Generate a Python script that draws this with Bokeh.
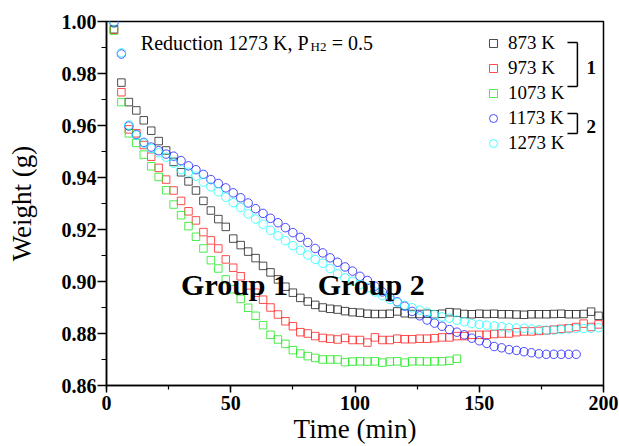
from bokeh.plotting import figure
from bokeh.models import (Range1d, SingleIntervalTicker, PrintfTickFormatter,
                          Label, Legend, LegendItem)
from bokeh.embed import file_html
from bokeh.resources import INLINE

# Sampling times (min)
TIME = [3, 6, 9, 12, 15, 18, 21, 24, 27, 30, 33, 36, 39, 42, 45, 48, 51, 54,
        57, 60, 63, 66, 69, 72, 75, 78, 81, 84, 87, 90, 93, 96, 99, 102, 105,
        108, 111, 114, 117, 120, 123, 126, 129, 132, 135, 138, 141, 144, 147,
        150, 153, 156, 159, 162, 165, 168, 171, 174, 177, 180, 183, 186, 189,
        192, 195, 198]

# Sample weight (g) during reduction, by temperature
W_873 = [0.997, 0.9765, 0.969, 0.9658, 0.962, 0.958, 0.954, 0.9504, 0.946, 0.942,
         0.9385, 0.935, 0.931, 0.9273, 0.924, 0.921, 0.9165, 0.914, 0.9115, 0.909,
         0.906, 0.9035, 0.9008, 0.898, 0.8957, 0.8937, 0.8923, 0.891, 0.890, 0.8895,
         0.8892, 0.8886, 0.8882, 0.888, 0.8876, 0.8875, 0.8875, 0.8876, 0.8885, 0.8878,
         0.8875, 0.8875, 0.8876, 0.8874, 0.8876, 0.8882, 0.8880, 0.8875, 0.8874, 0.8876,
         0.8875, 0.8876, 0.8874, 0.8874, 0.8873, 0.8872, 0.8874, 0.8874, 0.8874, 0.8875,
         0.8876, 0.8874, 0.8874, 0.8875, 0.8884, 0.8868]

W_973 = [0.9968, 0.9728, 0.9585, 0.957, 0.9525, 0.948, 0.9437, 0.9392, 0.935, 0.931,
         0.927, 0.9235, 0.919, 0.9158, 0.9127, 0.9085, 0.9053, 0.902, 0.8985, 0.8957,
         0.893, 0.890, 0.8873, 0.8847, 0.8828, 0.8805, 0.880, 0.879, 0.8783, 0.878,
         0.8777, 0.8783, 0.8775, 0.8775, 0.8765, 0.8785, 0.8775, 0.8775, 0.878, 0.8778,
         0.8778, 0.878, 0.878, 0.8782, 0.8785, 0.8785, 0.879, 0.879, 0.8795, 0.8795,
         0.8795, 0.8798, 0.880, 0.880, 0.8805, 0.8808, 0.8808, 0.881, 0.8812, 0.8815,
         0.8818, 0.882, 0.8825, 0.8838, 0.8825, 0.8835]

W_1073 = [0.9965, 0.969, 0.957, 0.9533, 0.9488, 0.9443, 0.9402, 0.9351, 0.9296, 0.9255,
          0.9213, 0.9172, 0.9127, 0.9082, 0.905, 0.9008, 0.897, 0.8933, 0.8899, 0.8868,
          0.8832, 0.8795, 0.8777, 0.876, 0.8736, 0.8723, 0.8713, 0.8706, 0.870, 0.870,
          0.870, 0.869, 0.8692, 0.8693, 0.8692, 0.8693, 0.8688, 0.8692, 0.8693, 0.8688,
          0.8693, 0.8693, 0.8692, 0.8693, 0.8693, 0.8695, 0.8703]

W_1173 = [0.9995, 0.9875, 0.9598, 0.9565, 0.9535, 0.9517, 0.9503, 0.949, 0.9482, 0.9465,
          0.9445, 0.943, 0.9412, 0.9392, 0.9377, 0.936, 0.9341, 0.9322, 0.9302, 0.928,
          0.9262, 0.9243, 0.9226, 0.9207, 0.9188, 0.917, 0.915, 0.9127, 0.911, 0.9091,
          0.9074, 0.9056, 0.904, 0.902, 0.9004, 0.8982, 0.896, 0.894, 0.8922, 0.8905,
          0.8885, 0.8868, 0.8852, 0.884, 0.8828, 0.8815, 0.8805, 0.8795, 0.8782, 0.8772,
          0.8762, 0.875, 0.8745, 0.8738, 0.8735, 0.873, 0.8726, 0.8722, 0.872, 0.872,
          0.872, 0.872, 0.872]

W_1273 = [1.000, 0.988, 0.9602, 0.9563, 0.9532, 0.9512, 0.9495, 0.9478, 0.9455, 0.943,
          0.942, 0.9405, 0.9382, 0.9364, 0.9345, 0.9324, 0.9303, 0.9285, 0.926, 0.924,
          0.922, 0.9197, 0.9176, 0.9157, 0.9138, 0.912, 0.9102, 0.9085, 0.907, 0.905,
          0.903, 0.9014, 0.9001, 0.8988, 0.8976, 0.896, 0.8946, 0.8931, 0.892, 0.8909,
          0.8899, 0.889, 0.8882, 0.8873, 0.8864, 0.8859, 0.8851, 0.8845, 0.8838, 0.8835,
          0.8832, 0.8829, 0.8826, 0.8822, 0.8821, 0.882, 0.8817, 0.8815, 0.8813, 0.8813,
          0.8815, 0.8818, 0.8819, 0.8819, 0.882, 0.8822]

SERIES = [
    ("873 K", W_873, "square", "#202020"),
    ("973 K", W_973, "square", "#ff2020"),
    ("1073 K", W_1073, "square", "#20e820"),
    ("1173 K", W_1173, "circle", "#2020ff"),
    ("1273 K", W_1273, "circle", "#20ffff"),
]

SERIF = "Liberation Serif"

p = figure(width=619, height=446,
           x_range=Range1d(0, 200), y_range=Range1d(0.86, 1.0),
           output_backend="svg", toolbar_location=None,
           min_border_left=106, min_border_right=16,
           min_border_top=21, min_border_bottom=60)
p.grid.visible = False
p.background_fill_color = "white"
p.border_fill_color = "white"
p.outline_line_color = "black"
p.outline_line_width = 1.5
p.outline_line_alpha = 1.0

items = []
for name, w, marker, color in SERIES:
    size = 7.5 if marker == "square" else 8.5
    r = p.scatter(TIME[:len(w)], w, marker=marker, size=size,
                  fill_color=None, line_color=color, line_width=1,
                  line_alpha=0.8)
    items.append(LegendItem(label=name, renderers=[r]))

# axes
p.xaxis.ticker = SingleIntervalTicker(interval=50, num_minor_ticks=2)
p.yaxis.ticker = SingleIntervalTicker(interval=0.02, num_minor_ticks=2)
p.yaxis.formatter = PrintfTickFormatter(format="%.2f")
for ax in (p.xaxis[0], p.yaxis[0]):
    ax.axis_line_width = 1.5
    ax.axis_line_color = "black"
    ax.major_tick_line_color = "black"
    ax.minor_tick_line_color = "black"
    ax.major_tick_in = 0
    ax.minor_tick_in = 0
    ax.major_tick_line_width = 1.5
    ax.minor_tick_line_width = 1.2
    ax.major_label_text_font = SERIF
    ax.major_label_text_font_style = "bold"
    ax.major_label_text_font_size = "20px"
    ax.major_label_text_color = "black"
    ax.axis_label_text_font = SERIF
    ax.axis_label_text_font_style = "normal"
    ax.axis_label_text_font_size = "27px"
    ax.axis_label_text_color = "black"
p.xaxis.major_tick_out = 7
p.xaxis.minor_tick_out = 4
p.yaxis.major_tick_out = 9
p.yaxis.minor_tick_out = 5
p.xaxis.major_label_standoff = 3
p.yaxis.major_label_standoff = 1
p.xaxis.axis_label = "Time (min)"
p.yaxis.axis_label = "Weight (g)"
p.xaxis.axis_label_standoff = 1
p.yaxis.axis_label_standoff = 22

legend = Legend(items=items, location="top_right", margin=11, padding=0,
                spacing=3, glyph_width=20, glyph_height=20, label_height=20,
                label_width=84, label_standoff=5,
                label_text_font=SERIF, label_text_font_size="19px",
                label_text_color="black",
                border_line_color=None, background_fill_alpha=0)
p.add_layout(legend)

# condition note
note = dict(text_font=SERIF, text_color="black", text_baseline="alphabetic")
p.add_layout(Label(x=13.8, y=0.9918, text="Reduction 1273 K, P",
                   text_font_size="20px", **note))
p.add_layout(Label(x=82.1, y=0.9905, text="H2", text_font_size="13px", **note))
p.add_layout(Label(x=90.6, y=0.9918, text="= 0.5", text_font_size="20px", **note))

# group captions
for txt, gx in (("Group 1", 30.0), ("Group 2", 85.0)):
    p.add_layout(Label(x=gx, y=0.8988, text=txt, text_font=SERIF,
                       text_font_size="30px", text_font_style="bold",
                       text_color="black", text_baseline="alphabetic"))

# brackets grouping the legend entries
BR_X0, BR_X1 = 185.5, 189.5
for top, bottom, tag, ty in ((0.99192, 0.9750, "1", 0.98231),
                             (0.96462, 0.95692, "2", 0.95962)):
    p.segment(x0=[BR_X0, BR_X1, BR_X0], y0=[top, top, bottom],
              x1=[BR_X1, BR_X1, BR_X1], y1=[top, bottom, bottom],
              line_color="black", line_width=1.5)
    p.add_layout(Label(x=193.2, y=ty, text=tag, text_font=SERIF,
                       text_font_size="19px", text_font_style="bold",
                       text_color="black", text_baseline="middle"))

open("out.html", "w").write(file_html(p, INLINE))
